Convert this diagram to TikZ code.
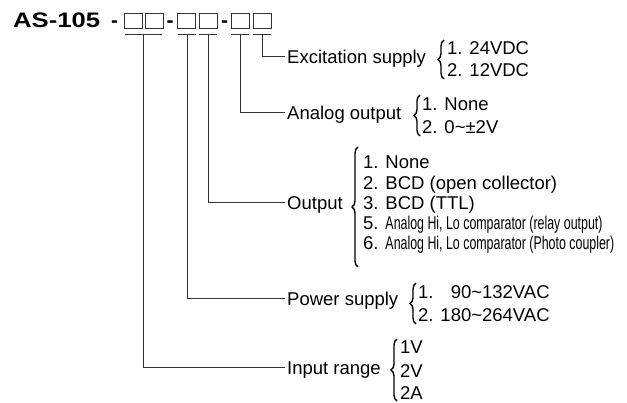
\documentclass[tikz,border=0pt]{standalone}
\usepackage{fontspec}
\setmainfont{Liberation Sans}
\newfontfamily\narrowfont[FakeStretch=0.67]{Liberation Sans}
\newfontfamily\titlefont[FakeStretch=1.22]{Liberation Sans}
\usetikzlibrary{decorations.pathreplacing,calc}
\begin{document}
\begin{tikzpicture}[x=1pt,y=-1pt,
  conn/.style={draw=black!80, line width=1pt},
  codebox/.style={draw=black!80, line width=0.9pt, minimum width=18pt, minimum height=15pt, inner sep=0pt, anchor=north west},
  dashmark/.style={anchor=base, inner sep=0pt, font=\fontsize{21}{24}\selectfont\bfseries},
  lbl/.style={anchor=west, inner xsep=2pt, inner ysep=0pt, text height=13.5pt, text depth=0pt, font=\fontsize{18.5}{20}\selectfont},
  itm/.style={anchor=west, inner sep=0pt, text height=13.5pt, text depth=0pt, font=\fontsize{18.5}{20}\selectfont},
  cbrace/.style={draw=black, line width=1.4pt, decorate, decoration={brace, amplitude=6pt}}
]
\useasboundingbox (0,0) rectangle (627,403);

% title and code boxes
\node[anchor=base west, inner sep=0pt, font=\fontsize{21}{24}\selectfont\titlefont\bfseries] (title) at (13,28) {AS-105};
\node[dashmark] (d1) at (114.5,28) {-};
\node[codebox] (b1) at (124,13) {};
\node[codebox] (b2) at (145,13) {};
\node[dashmark] (d2) at (170,28) {-};
\node[codebox] (b3) at (177,13) {};
\node[codebox] (b4) at (199,13) {};
\node[dashmark] (d3) at (224.5,28) {-};
\node[codebox] (b5) at (231,13) {};
\node[codebox] (b6) at (253,13) {};

% underlines
\draw[conn] (125,35) -- (162,35);
\draw[conn] (178,35) -- (196,35);
\draw[conn] (199,35) -- (217,35);
\draw[conn] (231,35) -- (249,35);
\draw[conn] (253,35) -- (271,35);
\coordinate (u1) at (143.5,35);
\coordinate (u3) at (187,35);
\coordinate (u4) at (208,35);
\coordinate (u5) at (240,35);
\coordinate (u6) at (262,35);

% labels
\node[lbl] (lexc) at (285,57) {Excitation supply};
\node[lbl] (lana) at (285,113) {Analog output};
\node[lbl] (lout) at (285,203) {Output};
\node[lbl] (lpow) at (285,299) {Power supply};
\node[lbl] (linp) at (285,368) {Input range};

% connectors
\draw[conn] (u6) |- (lexc.west);
\draw[conn] (u5) |- (lana.west);
\draw[conn] (u4) |- (lout.west);
\draw[conn] (u3) |- (lpow.west);
\draw[conn] (u1) |- (linp.west);

% braces
\draw[cbrace] (444,79) -- (444,40);
\draw[cbrace] (420,136) -- (420,95);
\draw[cbrace] (358,267) -- (358,147);
\draw[cbrace] (416,324) -- (416,283);
\draw[cbrace] (397,401) -- (397,339);

% items
\node[itm] (e1) at (447,48) {1. 24VDC};
\node[itm] (e2) at (447,70) {2. 12VDC};
\node[itm] (a1) at (422,104) {1. None};
\node[itm] (a2) at (422,127) {2. 0\textasciitilde±2V};
\node[itm] (o1) at (363,162) {1. None};
\node[itm] (o2) at (363,183) {2. BCD (open collector)};
\node[itm] (o3) at (363,203) {3. BCD (TTL)};
\node[itm] (o5) at (363,223) {5. {\narrowfont Analog Hi, Lo comparator (relay output)}};
\node[itm] (o6) at (363,243) {6. {\narrowfont Analog Hi, Lo comparator (Photo coupler)}};
\node[itm] (p1) at (418,292) {1. \phantom{1}90\textasciitilde132VAC};
\node[itm] (p2) at (418,315) {2. 180\textasciitilde264VAC};
\node[itm] (i1) at (400,347) {1V};
\node[itm] (i2) at (400,371) {2V};
\node[itm] (i3) at (400,393) {2A};
\end{tikzpicture}
\end{document}
